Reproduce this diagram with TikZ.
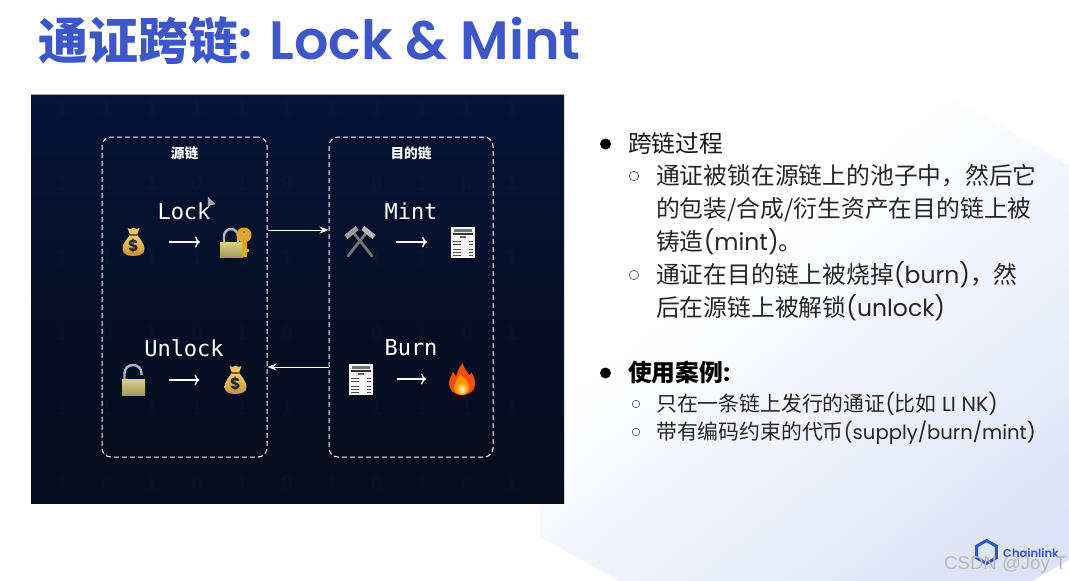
\documentclass[tikz,border=0pt]{standalone}
\usepackage{fontspec}
\setmainfont{Poppins}
\newfontfamily\cjk[Scale=1.012]{Noto Sans CJK SC}
\newfontfamily\titlefont{Poppins SemiBold}
\newfontfamily\labelfont{DejaVu Sans Mono}
\newfontfamily\markfont{Liberation Sans}
\usetikzlibrary{arrows.meta,shapes.geometric}
\definecolor{titleblue}{HTML}{3D57C8}
\definecolor{linkblue}{HTML}{2A55D0}
\definecolor{paleblue}{HTML}{DCE3F6}
\definecolor{navytop}{HTML}{0C1A50}
\definecolor{navyhigh}{HTML}{071334}
\definecolor{navymid}{HTML}{050D20}
\definecolor{navylow}{HTML}{050D1C}
\definecolor{bagtop}{HTML}{F0CB72}
\definecolor{baglow}{HTML}{C49436}
\definecolor{locktop}{HTML}{DCD08E}
\definecolor{locklow}{HTML}{A2995A}
\definecolor{keygold}{HTML}{E0A52E}
\definecolor{shackle}{HTML}{A9B7C9}
\pgfdeclareverticalshading{palefade}{100bp}{color(0bp)=(paleblue);color(20bp)=(paleblue);color(60bp)=(white);color(100bp)=(white)}
\pgfdeclareverticalshading{panelfade}{100bp}{color(0bp)=(navylow);color(40bp)=(navymid);color(70bp)=(navyhigh);color(100bp)=(navytop)}
\tikzset{
    chainbox/.style={draw=white,line width=1pt,dash pattern=on 5pt off 3pt,rounded corners=9pt},
    chainname/.style={text=white,font=\cjk\bfseries\fontsize{13.5}{15}\selectfont},
    oplabel/.style={text=white,font=\labelfont\fontsize{22}{24}\selectfont},
    icon/.style={inner sep=0pt,outer sep=0pt,minimum size=0pt},
    oparrow/.style={draw=white,line width=1.4pt,-{To[length=5pt,width=11pt]},shorten <=35.5pt,shorten >=36pt},
    linkarrow/.style={draw=white,line width=0.8pt,-{Stealth[length=9pt,width=7pt]}},
    bigtext/.style={anchor=west,inner sep=0pt,align=left,font=\fontsize{23.5}{33}\selectfont},
    smalltext/.style={anchor=west,inner sep=0pt,font=\fontsize{20.6}{24}\selectfont},
    dotbullet/.style={circle,fill=black,inner sep=0pt,minimum size=11pt},
    ringbullet/.style={circle,draw=black!70,line width=0.6pt,inner sep=0pt,minimum size=#1},
    moneybag/.pic={
        \shade[top color=bagtop,bottom color=baglow]
            (-3.5,-7) .. controls (-7,-3) and (-11,2) .. (-11,7) .. controls (-11,12) and (-6,14) .. (0,14)
            .. controls (6,14) and (11,12) .. (11,7) .. controls (11,2) and (7,-3) .. (3.5,-7) -- cycle;
        \fill[bagtop!85!brown] (-3.5,-7) .. controls (-4,-10) and (-6,-12) .. (-6,-14) -- (-3,-13) -- (0,-14.5)
            -- (3,-13) -- (6,-14) .. controls (6,-12) and (4,-10) .. (3.5,-7) -- cycle;
        \draw[brown!70!black,line width=1.3pt] (-4,-7) -- (4,-7);
        \node[text=black!85,inner sep=0pt,font=\bfseries\fontsize{16}{16}\selectfont] (sign) at (0,4) {\$};
    },
    padlock/.pic={
        \draw[shackle,line width=2.4pt] (-12,1) -- (-12,-6) arc[start angle=180,end angle=360,x radius=7,y radius=7] -- (2,1);
        \shade[top color=locktop,bottom color=locklow] (-16,0) rectangle (7,15);
        \fill[keygold] (8,-7) circle[radius=7.5];
        \fill[keygold] (6,-2) rectangle (10.5,15);
        \fill[keygold] (10.5,7) rectangle (13,9.5);
        \fill[keygold!60!black] (8,-10) circle[radius=1.2];
    },
    openlock/.pic={
        \draw[shackle,line width=2.4pt] (-9,0) -- (-9,-7) arc[start angle=180,end angle=360,x radius=8.5,y radius=8] -- (8,-5);
        \shade[top color=locktop,bottom color=locklow] (-11.5,-1) rectangle (11.5,15);
    },
    hammers/.pic={
        \draw[black!55,line width=2.8pt,line cap=round] (-7,-10) -- (12,14);
        \draw[black!55,line width=2.8pt,line cap=round] (7,-10) -- (-12,14);
        \draw[gray!75,line width=5pt] (-14,-5) -- (-3,-14);
        \draw[gray!55,line width=5pt] (3,-14) -- (14,-5);
    },
    receipt/.pic={
        \fill[white!92!gray] (-12,-15.5) rectangle (12,15.5);
        \fill[black!55] (-9,-13.5) rectangle (9,-10);
        \fill[black!80] (-10,-9) rectangle (10,-7.5);
        \fill[black!60] (-3,-6) rectangle (3,-4.5);
        \foreach \ln in {-1,2,7,10,13} {
            \draw[black!70,line width=0.7pt] (-10,\ln) -- (-2,\ln);
            \draw[black!70,line width=0.7pt] (6,\ln) -- (10,\ln);
        }
    },
    flame/.pic={
        \fill[orange!60!red] (0,16) .. controls (-9,16) and (-13,10) .. (-13,4) .. controls (-13,-1) and (-10,-3) .. (-9,-7)
            .. controls (-7,-5) and (-6,-3) .. (-6,-2) .. controls (-5,-7) and (-3,-12) .. (1,-16)
            .. controls (1,-11) and (5,-8) .. (7,-4) .. controls (8,-3) and (9,-5) .. (9,-7)
            .. controls (12,-3) and (13,1) .. (13,5) .. controls (13,11) and (8,16) .. (0,16) -- cycle;
        \fill[orange!85!yellow] (0,16) .. controls (-6,16) and (-9,11) .. (-8,6) .. controls (-7,2) and (-4,0) .. (-2,-5)
            .. controls (0,-2) and (5,1) .. (7,5) .. controls (9,11) and (5,16) .. (0,16) -- cycle;
        \shade[inner color=white!90!yellow,outer color=orange!70!yellow] (0,10) ellipse[x radius=5,y radius=6];
    },
}
\begin{document}
\begin{tikzpicture}[x=1pt,y=-1pt]
    \useasboundingbox (0,0) rectangle (1069,581);
    \fill[white] (0,0) rectangle (1069,581);

    % Pale background shape
    \shade[shading=palefade,shading angle=38]
        (927,83) -- (1069,165) -- (1069,560) -- (1032,581) -- (620,581) -- (540,537) -- (540,300) -- cycle;

    % Title
    \node[anchor=west,inner sep=0pt,text=titleblue,font=\titlefont\fontsize{54}{58}\selectfont] (title) at (38,41)
        {{\cjk\bfseries\fontsize{49.4}{58}\selectfont 通证跨链}: Lock \& Mint};

    % Dark panel
    \shade[shading=panelfade] (31,94) rectangle (564,503);
    \draw[gray!70,line width=0.6pt] (31,94) -- (564,94);

    % Faint digits
    \foreach \row [count=\r] in {108,183,...,483}
        \foreach \col [count=\c] in {62,107,...,512} {
            \pgfmathtruncatemacro{\bit}{mod(\c*\r+\r*\r+\c*\c*\c,2)}
            \node[text=white,opacity=0.015,font=\labelfont\bfseries\fontsize{20}{22}\selectfont] (d\r-\c) at (\col,\row) {\bit};
        }

    % Chain boxes
    \node[chainbox,minimum width=165pt,minimum height=320pt,inner sep=0pt] (srcbox) at (184.5,297) {};
    \node[chainbox,minimum width=164pt,minimum height=320pt,inner sep=0pt] (dstbox) at (411,297) {};
    \node[chainname] (srcname) at (184.5,153) {源链};
    \node[chainname] (dstname) at (411,153) {目的链};

    % Operation labels
    \node[oplabel] (locklabel) at (184,211) {Lock};
    \node[oplabel] (mintlabel) at (411,211) {Mint};
    \node[oplabel] (unlocklabel) at (184,348) {Unlock};
    \node[oplabel] (burnlabel) at (411,348) {Burn};

    % Icons
    \node[icon] (lockbag) at (133.5,242) {};
    \node[icon] (lockkey) at (236,242) {};
    \node[icon] (minttool) at (360,242) {};
    \node[icon] (mintbill) at (463,242) {};
    \node[icon] (openpad) at (133.5,380) {};
    \node[icon] (unlockbag) at (235.5,380) {};
    \node[icon] (burnbill) at (361,379) {};
    \node[icon] (burnfire) at (462,379) {};
    \pic at (lockbag) {moneybag};
    \pic at (lockkey) {padlock};
    \pic at (minttool) {hammers};
    \pic at (mintbill) {receipt};
    \pic at (openpad) {openlock};
    \pic at (unlockbag) {moneybag};
    \pic at (burnbill) {receipt};
    \pic at (burnfire) {flame};

    % Arrows inside the boxes
    \draw[oparrow] (lockbag) -- (lockkey);
    \draw[oparrow] (minttool) -- (mintbill);
    \draw[oparrow] (openpad) -- (unlockbag);
    \draw[oparrow] (burnbill) -- (burnfire);

    % Arrows between the boxes
    \coordinate (lockout) at (srcbox.east |- 0,230);
    \coordinate (mintin) at (dstbox.west |- 0,230);
    \coordinate (burnout) at (dstbox.west |- 0,367);
    \coordinate (unlockin) at (srcbox.east |- 0,367);
    \draw[linkarrow] (lockout) -- (mintin);
    \draw[linkarrow] (burnout) -- (unlockin);

    % Pointer
    \fill[gray!70,draw=gray!40,line width=0.3pt] (208,197) -- (208,207) -- (210.5,205) -- (215,204) -- cycle;

    % Right column
    \node[dotbullet] (firstdot) at (605.5,144) {};
    \node[bigtext,text=black!90] (processhead) at (628,143) {\cjk 跨链过程};
    \node[ringbullet=9.5pt] (ringa) at (634,176) {};
    \node[bigtext,text=black!85,anchor=north west] (itema) at (656,164.5)
        {{\cjk 通证被锁在源链上的池子中，然后它}\\{\cjk 的包装/合成/衍生资产在目的链上被}\\{\cjk 铸造}(mint){\cjk 。}};
    \node[ringbullet=9.5pt] (ringb) at (634,275) {};
    \node[bigtext,text=black!85,anchor=north west] (itemb) at (656,261.5)
        {{\cjk 通证在目的链上被烧掉}(burn){\cjk ，然}\\{\cjk 后在源链上被解锁}(unlock)};
    \node[dotbullet] (seconddot) at (605.5,373) {};
    \node[bigtext,text=black,font=\bfseries\fontsize{23.5}{33}\selectfont] (casehead) at (628,372) {{\cjk 使用案例}:};
    \node[ringbullet=7.5pt] (ringc) at (636,404) {};
    \node[smalltext,text=black!85] (itemc) at (656,404) {{\cjk 只在一条链上发行的通证}({\cjk 比如} LI NK)};
    \node[ringbullet=7.5pt] (ringd) at (636,432) {};
    \node[smalltext,text=black!85] (itemd) at (656,432.5) {{\cjk 带有编码约束的代币}{\fontsize{19.6}{24}\selectfont (supply/burn/mint)}};

    % Logo and watermark
    \node[regular polygon,regular polygon sides=6,shape border rotate=30,draw=linkblue,line width=3pt,minimum size=23pt,inner sep=0pt] (logohex) at (986.5,552) {};
    \node[anchor=west,inner sep=0pt,text=linkblue,font=\titlefont\fontsize{11.5}{13}\selectfont] (logotext) at (1003,553.5) {Chainlink};
    \node[anchor=west,inner sep=0pt,text=gray!55,font=\markfont\fontsize{18.6}{22}\selectfont] (watermark) at (944,564.5) {CSDN @Joy T};
\end{tikzpicture}
\end{document}
